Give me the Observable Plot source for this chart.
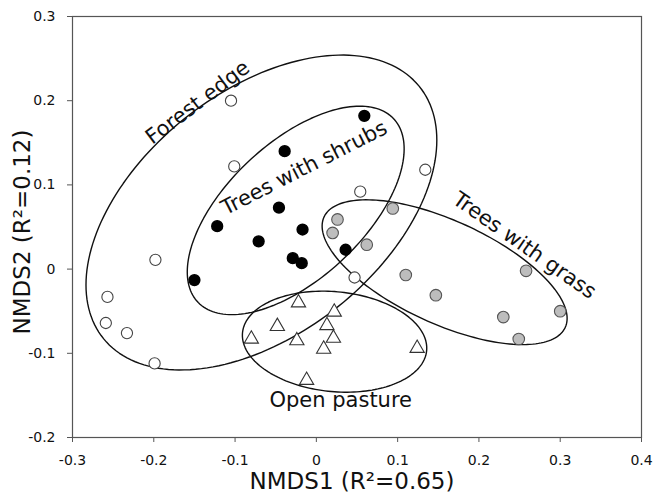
<!DOCTYPE html>
<html><head><meta charset="utf-8">
<script src="https://cdn.jsdelivr.net/npm/d3@7"></script>
<script src="https://cdn.jsdelivr.net/npm/@observablehq/plot@0.6"></script>
<style>body{margin:0;background:#fff;} svg{display:block}</style>
</head><body><div id="chart"></div>
<script>
// Forest edge (open circles)
const forestX = [-0.105, -0.101, -0.198, -0.257, -0.259, -0.233, -0.199, 0.054, 0.047, 0.134];
const forestY = [0.200, 0.122, 0.011, -0.033, -0.064, -0.076, -0.112, 0.092, -0.010, 0.118];
// Trees with shrubs (black dots)
const shrubsX = [0.059, -0.039, -0.046, -0.122, -0.017, -0.071, -0.029, -0.018, 0.036, -0.150];
const shrubsY = [0.182, 0.140, 0.073, 0.051, 0.047, 0.033, 0.013, 0.007, 0.023, -0.013];
// Trees with grass (grey dots)
const grassX = [0.026, 0.020, 0.094, 0.062, 0.110, 0.147, 0.258, 0.230, 0.249, 0.300];
const grassY = [0.059, 0.043, 0.072, 0.029, -0.007, -0.031, -0.002, -0.057, -0.083, -0.050];
// Open pasture (triangles)
const pastureX = [-0.022, 0.022, -0.048, 0.013, -0.080, -0.024, 0.021, 0.009, 0.124, -0.012];
const pastureY = [-0.040, -0.051, -0.068, -0.067, -0.083, -0.085, -0.082, -0.095, -0.094, -0.132];

// Group ellipses: centre, half-extent in x and y, correlation
const ellipseNames = ["Forest edge", "Trees with shrubs", "Trees with grass", "Open pasture"];
const ellipseCx = [-0.0676, -0.0254, 0.1578, 0.0224];
const ellipseCy = [0.0672, 0.0697, -0.0037, -0.0862];
const ellipseRx = [0.2158, 0.1334, 0.1507, 0.1134];
const ellipseRy = [0.187, 0.1238, 0.086, 0.060];
const ellipseRho = [0.46, 0.59, -0.637, -0.127];

// Group labels
const labelText = ["Forest edge", "Trees with shrubs", "Trees with grass", "Open pasture"];
const labelX = [-0.146, -0.015, 0.256, 0.030];
const labelY = [0.198, 0.120, 0.028, -0.156];
const labelAngle = [-37, -27, 35, 0];

// Axes
const xTicks = [-0.3, -0.2, -0.1, 0, 0.1, 0.2, 0.3, 0.4];
const xTickLabels = ["-0.3", "-0.2", "-0.1", "0", "0.1", "0.2", "0.3", "0.4"];
const yTicks = [-0.2, -0.1, 0, 0.1, 0.2, 0.3];
const yTickLabels = ["-0.2", "-0.1", "0", "0.1", "0.2", "0.3"];
const xTitle = "NMDS1 (R²=0.65)";
const yTitle = "NMDS2 (R²=0.12)";

const pts = (xs, ys) => xs.map((x, i) => ({x, y: ys[i]}));
const ellipseOutline = [];
ellipseNames.forEach((name, k) => {
  const n = 180;
  for (let i = 0; i < n; i++) {
    const t = 2 * Math.PI * i / n;
    ellipseOutline.push({
      group: name,
      x: ellipseCx[k] + ellipseRx[k] * Math.cos(t),
      y: ellipseCy[k] + ellipseRy[k] * (ellipseRho[k] * Math.cos(t) + Math.sqrt(1 - ellipseRho[k] ** 2) * Math.sin(t))
    });
  }
});
const labels = labelText.map((t, i) => ({t, x: labelX[i], y: labelY[i], a: labelAngle[i]}));

const font = "DejaVu Sans, Verdana, sans-serif";
const chart = Plot.plot({
  width: 654, height: 499,
  marginLeft: 72, marginRight: 13, marginTop: 16, marginBottom: 62,
  style: {fontFamily: font, background: "#fff", color: "#111"},
  x: {domain: [-0.3, 0.4]},
  y: {domain: [-0.2, 0.3]},
  marks: [
    Plot.frame({stroke: "#555", strokeWidth: 1.2}),
    Plot.axisX({ticks: xTicks, tickFormat: d => xTickLabels[xTicks.findIndex(v => Math.abs(v - d) < 1e-9)], tickSize: 5, tickPadding: 13, fontSize: 14, label: null, stroke: "#555"}),
    Plot.axisY({ticks: yTicks, tickFormat: d => yTickLabels[yTicks.findIndex(v => Math.abs(v - d) < 1e-9)], tickSize: 5, tickPadding: 12, fontSize: 14, label: null, stroke: "#555"}),
    Plot.line(ellipseOutline, {x: "x", y: "y", z: "group", curve: "linear-closed", stroke: "#111", strokeWidth: 1.4}),
    Plot.dot(pts(forestX, forestY), {x: "x", y: "y", r: 5.6, fill: "#fff", stroke: "#444", strokeWidth: 1.1}),
    Plot.dot(pts(shrubsX, shrubsY), {x: "x", y: "y", r: 5.4, fill: "#000", stroke: "#000"}),
    Plot.dot(pts(grassX, grassY), {x: "x", y: "y", r: 5.8, fill: "#bdbdbd", stroke: "#555", strokeWidth: 1.1}),
    Plot.dot(pts(pastureX, pastureY), {x: "x", y: "y", r: 5.3, symbol: "triangle", fill: "#fff", stroke: "#333", strokeWidth: 1.1}),
    Plot.text(labels, {x: "x", y: "y", text: "t", rotate: "a", fontSize: 21, fill: "#111", textAnchor: "middle", lineAnchor: "middle"}),
    Plot.text([xTitle], {frameAnchor: "bottom", textAnchor: "middle", dx: -5, dy: 44, fontSize: 23, fill: "#111", lineAnchor: "middle"}),
    Plot.text([yTitle], {frameAnchor: "left", textAnchor: "middle", rotate: -90, dx: -50, dy: 5, fontSize: 23, fill: "#111", lineAnchor: "middle"})
  ]
});
document.getElementById("chart").appendChild(chart);
</script>
</body></html>
